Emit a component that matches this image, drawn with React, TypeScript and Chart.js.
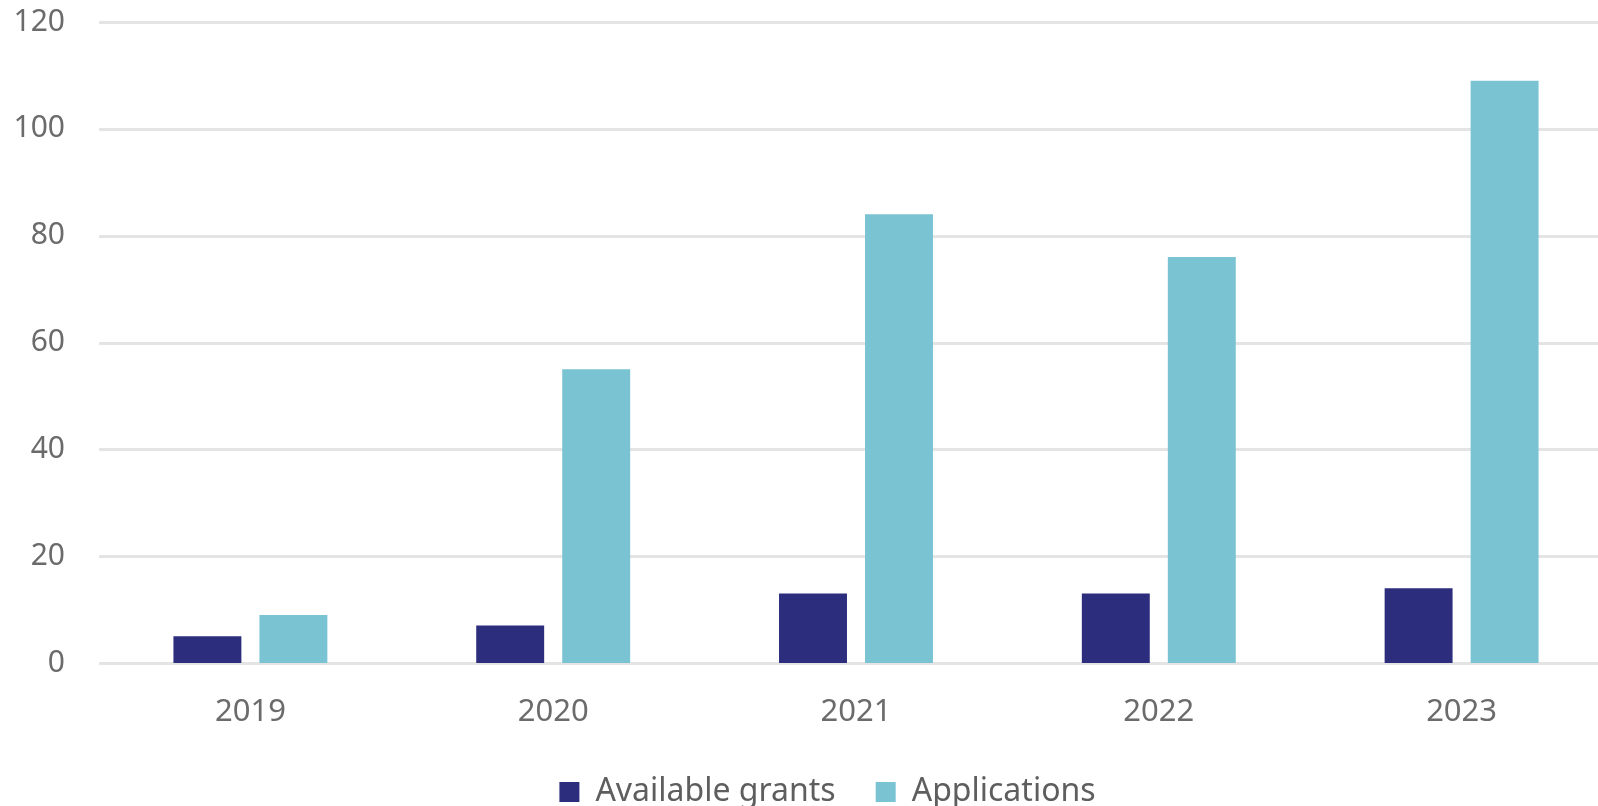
import React, { useEffect, useRef } from "react";
import { Chart, registerables } from "chart.js";

Chart.register(...registerables);

const categories = ["2019", "2020", "2021", "2022", "2023"];
const availableGrants = [5, 7, 13, 13, 14];
const applications = [9, 55, 84, 76, 109];
const seriesLabels = ["Available grants", "Applications"];
const seriesColors = ["#2c2d7c", "#79c3d3"];
const yTickStep = 20;
const yMax = 120;

const CANVAS_W = 1613;
const CANVAS_H = 818;

const fullGridPlugin = {
  id: "fullGrid",
  beforeDatasetsDraw(chart: any) {
    const { ctx, chartArea } = chart;
    const y = chart.scales.y;
    ctx.save();
    ctx.strokeStyle = "#e4e4e4";
    ctx.lineWidth = 3;
    y.ticks.forEach((t: any) => {
      const py = Math.round(y.getPixelForValue(t.value)) + 0.5;
      ctx.beginPath();
      ctx.moveTo(chartArea.left, py);
      ctx.lineTo(chart.width, py);
      ctx.stroke();
    });
    ctx.restore();
  },
};

const legendShiftPlugin = {
  id: "legendShift",
  afterLayout(chart: any) {
    const lg = chart.legend;
    if (lg) {
      lg.left += 21;
      lg.right += 21;
    }
  },
};

export default function App() {
  const ref = useRef<HTMLCanvasElement | null>(null);
  useEffect(() => {
    if (!ref.current) return;
    const font = "'Noto Sans', 'Open Sans', sans-serif";
    const chart = new Chart(ref.current, {
      type: "bar",
      data: {
        labels: categories,
        datasets: [
          {
            label: seriesLabels[0],
            data: availableGrants,
            backgroundColor: seriesColors[0],
            categoryPercentage: 0.568,
            barPercentage: 0.79,
          },
          {
            label: seriesLabels[1],
            data: applications,
            backgroundColor: seriesColors[1],
            categoryPercentage: 0.568,
            barPercentage: 0.79,
          },
        ],
      },
      options: {
        animation: false,
        responsive: false,
        devicePixelRatio: 1,
        layout: { padding: { top: 22, right: 0, left: 0, bottom: 0 } },
        scales: {
          x: {
            grid: { display: false },
            border: { display: false },
            ticks: { color: "#6b6b6b", font: { family: font, size: 31 }, padding: 23 },
            afterFit(scale: any) {
              scale.height = 73;
              scale.paddingLeft = 0;
              scale.paddingRight = 0;
            },
          },
          y: {
            min: 0,
            max: yMax,
            grid: { display: false, drawTicks: false },
            border: { display: false },
            ticks: { stepSize: yTickStep, color: "#6b6b6b", font: { family: font, size: 30 }, padding: 34 },
            afterFit(scale: any) {
              scale.width = 99;
              scale.paddingTop = 0;
              scale.paddingBottom = 0;
            },
          },
        },
        plugins: {
          legend: {
            position: "bottom",
            labels: {
              color: "#5e5e5e",
              font: { family: font, size: 32 },
              boxWidth: 20,
              boxHeight: 20,
              padding: 40,
            },
          },
          tooltip: { enabled: false },
        },
      },
      plugins: [fullGridPlugin, legendShiftPlugin],
    });
    return () => chart.destroy();
  }, []);
  return (
    <div style={{ position: "fixed", left: 0, top: 0, width: 1598, height: 806, overflow: "hidden", background: "#fff" }}>
      <canvas ref={ref} width={CANVAS_W} height={CANVAS_H} style={{ display: "block", width: CANVAS_W, height: CANVAS_H }} />
    </div>
  );
}
